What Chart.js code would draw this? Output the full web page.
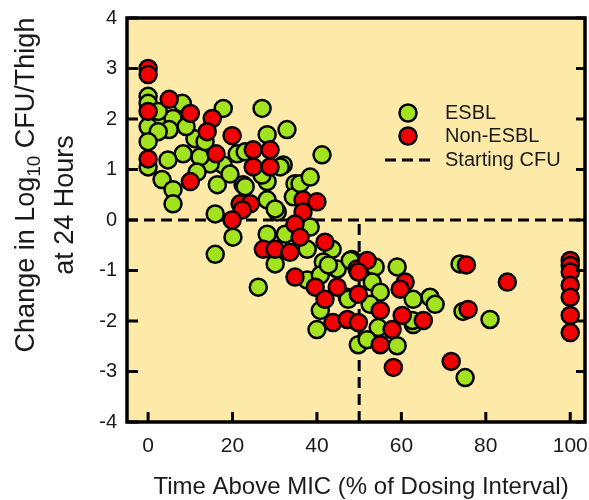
<!DOCTYPE html>
<html>
<head>
<meta charset="utf-8">
<script src="https://cdn.jsdelivr.net/npm/chart.js@4.4.0/dist/chart.umd.min.js"></script>
<style>
  html, body { margin: 0; padding: 0; background: #fff; overflow: hidden; }
  #wrap { width: 589px; height: 500px; position: relative; }
</style>
</head>
<body>
<div id="wrap"><canvas id="tamChart"></canvas></div>
<script>
// Data: [time above MIC %, change in log10 CFU]
const esblPoints = [
  [0,2.45],[0,2.31],[8.1,2.31],[3.3,2.01],[17.8,2.21],[27.0,2.21],[5.9,2.01],[0,1.85],
  [5.0,1.79],[2.4,1.75],[11.1,1.61],[28.2,1.69],[32.9,1.79],[0,1.55],[8.3,1.31],[4.7,1.19],
  [0,1.05],[21.1,1.31],[17.8,1.09],[14.7,1.11],[12.3,1.25],[32.0,1.09],[3.3,0.80],[5.9,0.60],
  [16.4,0.70],[22.5,0.70],[28.2,0.76],[5.9,0.32],[34.8,0.72],[28.2,0.40],[34.4,0.46],[19.4,0.91],
  [27.0,0.89],[11.6,0.95],[41.2,1.29],[23.0,0.66],[36.0,0.72],[38.4,0.85],[30.6,0.16],[15.9,0.12],
  [20.1,-0.34],[28.2,-0.28],[32.5,-0.28],[38.4,-0.14],[15.9,-0.68],[30.1,-0.87],[37.7,-0.58],[43.6,-0.58],
  [41.5,-0.83],[44.8,-0.97],[48.3,-0.78],[37.7,-1.19],[40.8,-1.09],[26.1,-1.33],[47.2,-1.53],[47.9,-0.80],
  [59.0,-0.93],[53.8,-0.93],[42.7,-0.89],[53.1,-1.23],[55.0,-1.43],[47.4,-1.57],[52.6,-1.67],[62.8,-1.57],
  [66.8,-1.53],[68.0,-1.67],[40.8,-1.79],[62.8,-2.07],[54.5,-2.13],[40.0,-2.17],[49.8,-2.47],[51.9,-2.37],
  [59.0,-2.49],[73.9,-0.87],[62.6,-1.99],[74.6,-1.81],[81.0,-1.97],[75.1,-3.12],[31.3,1.05],[30.1,0.22],
  [2.4,2.15],[9.0,1.85],[13.5,1.55],[23.0,1.35]
];
const nonEsblPoints = [
  [0,3.0],[0,2.88],[5.0,2.39],[0,2.15],[10.0,2.11],[15.2,2.01],[14.0,1.75],[19.9,1.67],
  [16.1,1.31],[0,1.21],[24.9,1.39],[28.9,1.39],[24.9,1.05],[28.9,1.05],[10.0,0.76],[21.8,0.32],
  [24.2,0.32],[22.3,0.20],[36.7,0.40],[40.0,0.36],[36.7,0.16],[19.9,0.0],[34.8,-0.08],[36.0,-0.34],
  [41.9,-0.44],[27.3,-0.58],[30.1,-0.58],[33.6,-0.64],[49.5,-0.97],[34.8,-1.13],[39.6,-1.33],[44.8,-1.33],
  [41.9,-1.57],[51.9,-0.80],[49.8,-1.03],[60.9,-1.23],[59.7,-1.37],[49.8,-1.47],[55.0,-1.79],[60.2,-1.89],
  [65.2,-1.99],[43.8,-2.03],[47.2,-1.97],[49.8,-2.03],[57.8,-2.17],[55.0,-2.47],[58.1,-2.92],[71.8,-2.80],
  [75.4,-0.89],[75.8,-1.77],[85.1,-1.23],[100,-0.80],[100,-0.90],[100,-1.03],[100,-1.29],[100,-1.53],
  [100,-1.89],[100,-2.23]
];
// dashed reference lines
const startingCfuX = [-5, 103.5];
const startingCfuY = [0, 0];
const cutoffX = [50, 50];
const cutoffY = [-4, 0];
// axis ticks
const xTickValues = [0, 20, 40, 60, 80, 100];
const yTickValues = [-4, -3, -2, -1, 0, 1, 2, 3, 4];

const FONT = '"Liberation Sans", Arial, Helvetica, sans-serif';
const TEXT_COLOR = '#1a1a1a';
const GREEN = '#a2e21e';
const RED = '#f20000';
const PANEL = '#fde9a8';

function toXY(points) {
    return points.map(p => ({ x: p[0], y: p[1] }));
}
function zipXY(xs, ys) {
    return xs.map((x, i) => ({ x: x, y: ys[i] }));
}

/**
 * Panel background, frame, inward ticks, titles and legend
 */
const decorPlugin = {
    id: 'decor',
    beforeDraw(chart) {
        const { ctx, chartArea: a } = chart;
        ctx.save();
        ctx.fillStyle = '#fff';
        ctx.fillRect(0, 0, chart.width, chart.height);
        ctx.fillStyle = PANEL;
        ctx.fillRect(a.left, a.top, a.right - a.left, a.bottom - a.top);
        ctx.restore();
    },
    afterDatasetsDraw(chart) {
        const { ctx, chartArea: a, scales } = chart;
        ctx.save();
        ctx.strokeStyle = '#000';
        ctx.lineWidth = 3;
        ctx.lineCap = 'butt';

        // inward ticks: bottom, left, right
        scales.x.ticks.forEach(t => {
            const px = scales.x.getPixelForValue(t.value);
            ctx.beginPath();
            ctx.moveTo(px, a.bottom);
            ctx.lineTo(px, a.bottom - 10);
            ctx.stroke();
        });
        scales.y.ticks.forEach(t => {
            const py = scales.y.getPixelForValue(t.value);
            ctx.beginPath();
            ctx.moveTo(a.left, py);
            ctx.lineTo(a.left + 11, py);
            ctx.moveTo(a.right, py);
            ctx.lineTo(a.right - 9, py);
            ctx.stroke();
        });

        // frame
        ctx.lineWidth = 3.5;
        ctx.strokeRect(a.left, a.top, a.right - a.left, a.bottom - a.top);

        // legend
        const lx = 408;
        ctx.lineWidth = 2.5;
        [[GREEN, 113, 'ESBL'], [RED, 136, 'Non-ESBL']].forEach(item => {
            ctx.beginPath();
            ctx.arc(lx, item[1], 8.5, 0, Math.PI * 2);
            ctx.fillStyle = item[0];
            ctx.fill();
            ctx.stroke();
        });
        ctx.lineWidth = 3;
        ctx.setLineDash([11, 6]);
        ctx.beginPath();
        ctx.moveTo(385, 160);
        ctx.lineTo(433, 160);
        ctx.stroke();
        ctx.setLineDash([]);

        ctx.fillStyle = TEXT_COLOR;
        ctx.font = '20px ' + FONT;
        ctx.textAlign = 'left';
        ctx.textBaseline = 'middle';
        ctx.fillText('ESBL', 445, 113);
        ctx.fillText('Non-ESBL', 445, 136);
        ctx.fillText('Starting CFU', 445, 160);

        // x title
        ctx.font = '24px ' + FONT;
        ctx.textAlign = 'center';
        ctx.fillText('Time Above MIC (% of Dosing Interval)', 361, 487);

        // y title (two lines, with subscript)
        ctx.translate(27, 185);
        ctx.rotate(-Math.PI / 2);
        const big = '27px ' + FONT, small = '19px ' + FONT;
        ctx.font = big;
        const p1 = 'Change in Log', p3 = ' CFU/Thigh';
        const w1 = ctx.measureText(p1).width, w3 = ctx.measureText(p3).width;
        ctx.font = small;
        const w2 = ctx.measureText('10').width;
        let x0 = -(w1 + w2 + w3) / 2;
        ctx.textAlign = 'left';
        ctx.font = big;
        ctx.fillText(p1, x0, 0);
        ctx.font = small;
        ctx.fillText('10', x0 + w1, 8);
        ctx.font = big;
        ctx.fillText(p3, x0 + w1 + w2, 0);
        ctx.restore();

        ctx.save();
        ctx.fillStyle = TEXT_COLOR;
        ctx.font = '27px ' + FONT;
        ctx.textAlign = 'center';
        ctx.textBaseline = 'middle';
        ctx.translate(66, 205);
        ctx.rotate(-Math.PI / 2);
        ctx.fillText('at 24 Hours', 0, 0);
        ctx.restore();
    }
};

new Chart(document.getElementById('tamChart'), {
    type: 'scatter',
    data: {
        datasets: [
            {
                label: 'Non-ESBL',
                data: toXY(nonEsblPoints),
                backgroundColor: RED,
                borderColor: '#000',
                borderWidth: 2.5,
                pointRadius: 8.5,
                order: 1
            },
            {
                label: 'ESBL',
                data: toXY(esblPoints),
                backgroundColor: GREEN,
                borderColor: '#000',
                borderWidth: 2.5,
                pointRadius: 8.5,
                order: 2
            },
            {
                label: 'Starting CFU',
                type: 'line',
                data: zipXY(startingCfuX, startingCfuY),
                borderColor: '#000',
                borderWidth: 3,
                borderDash: [11, 6],
                pointRadius: 0,
                fill: false,
                order: 3
            },
            {
                label: 'Cutoff',
                type: 'line',
                data: zipXY(cutoffX, cutoffY),
                borderColor: '#000',
                borderWidth: 3,
                borderDash: [11, 6],
                pointRadius: 0,
                fill: false,
                order: 3
            }
        ]
    },
    options: {
        responsive: true,
        maintainAspectRatio: false,
        animation: false,
        events: [],
        layout: { autoPadding: false, padding: { top: 18, right: 4, left: 0, bottom: 0 } },
        plugins: {
            legend: { display: false },
            tooltip: { enabled: false }
        },
        scales: {
            x: {
                type: 'linear',
                min: -5,
                max: 103.5,
                afterBuildTicks: s => { s.ticks = xTickValues.map(v => ({ value: v })); },
                afterFit: s => { s.height = 78; s.paddingLeft = 0; s.paddingRight = 0; },
                grid: { display: false, drawTicks: false },
                border: { display: false },
                ticks: { font: { size: 21, family: FONT }, color: TEXT_COLOR, padding: 12 }
            },
            y: {
                type: 'linear',
                min: -4,
                max: 4,
                afterBuildTicks: s => { s.ticks = yTickValues.map(v => ({ value: v })); },
                afterFit: s => { s.width = 127; s.paddingTop = 0; s.paddingBottom = 0; },
                grid: { display: false, drawTicks: false },
                border: { display: false },
                ticks: { font: { size: 20, family: FONT }, color: TEXT_COLOR, padding: 10 }
            }
        }
    },
    plugins: [decorPlugin]
});
</script>
</body>
</html>
